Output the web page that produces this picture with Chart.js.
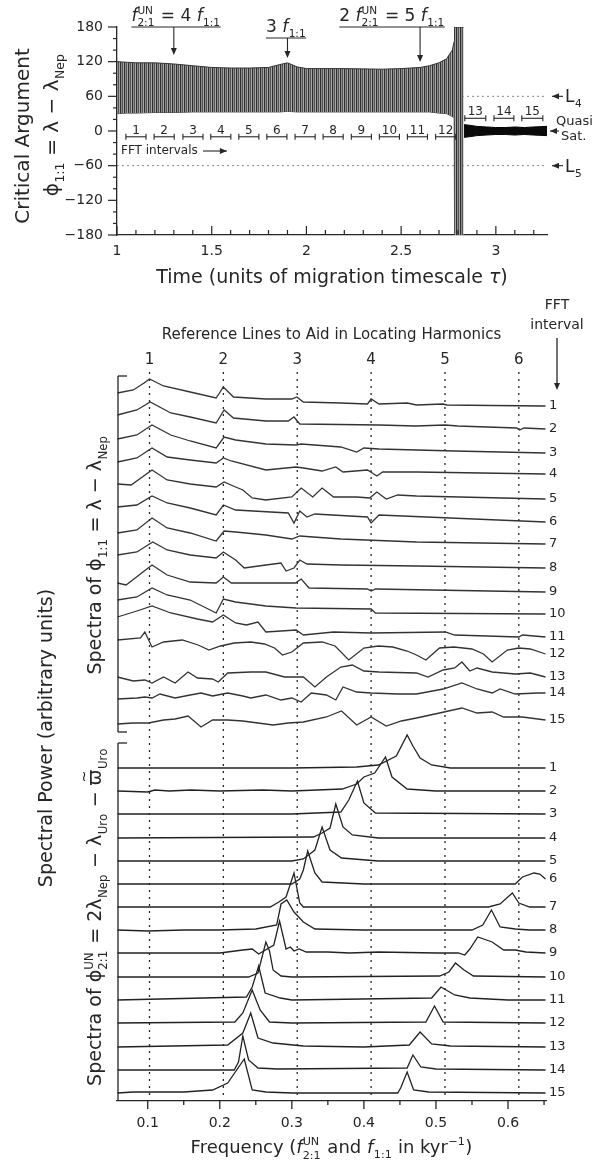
<!DOCTYPE html>
<html>
<head>
<meta charset="utf-8">
<script src="https://cdn.jsdelivr.net/npm/chart.js@4.4.1/dist/chart.umd.min.js"></script>
<style>
  html, body { margin: 0; padding: 0; background: #fff; }
  #wrap { position: relative; width: 594px; height: 1165px; }
  canvas { position: absolute; left: 0; }
  #top { top: 0; }
  #bot { top: 290px; }
</style>
</head>
<body>
<div id="wrap">
  <canvas id="top" width="594" height="290"></canvas>
  <canvas id="bot" width="594" height="875"></canvas>
</div>
<script>
// ---------- top panel: phi_1:1 against time ----------
// envelope of the fast libration (degrees)
const bandTime  = [1.00, 1.05, 1.10, 1.20, 1.30, 1.40, 1.50, 1.60, 1.70, 1.80, 1.86, 1.90, 1.95, 2.00, 2.20, 2.40, 2.50, 2.60, 2.65, 2.70, 2.74, 2.77, 2.78, 2.782, 2.830];
const bandUpper = [120, 119, 118, 118, 116, 113, 110, 109, 109, 110, 115, 118, 111, 108, 108, 107, 108, 110, 113, 118, 125, 140, 155, 180, 180];
const bandLower = [30, 31, 31, 32, 32, 33, 33, 33, 33, 33, 33, 34, 33, 33, 33, 33, 33, 33, 33, 31, 30, 25, 22, -180, -180];
// quasi-satellite phase after the escape
const satTime  = [2.832, 2.86, 2.90, 2.95, 3.00, 3.05, 3.10, 3.15, 3.20, 3.27];
const satUpper = [11, 10, 8, 7, 6, 6, 7, 6, 7, 8];
const satLower = [-11, -10, -8, -7, -6, -6, -7, -6, -7, -8];
// L4 / L5 longitudes
const libLevels = [60, -60];
const libNames = ['4', '5'];
// FFT windows (time units)
const fftStart = [1.047, 1.196, 1.348, 1.495, 1.643, 1.791, 1.940, 2.088, 2.237, 2.385, 2.533, 2.682, 2.836, 2.990, 3.137];
const fftEnd   = [1.153, 1.302, 1.454, 1.601, 1.749, 1.897, 2.046, 2.194, 2.343, 2.491, 2.639, 2.788, 2.947, 3.095, 3.248];
// commensurability markers
const markTimes = [1.30, 1.90, 2.60];
const timeTicks = [1, 1.5, 2, 2.5, 3];
const angleTicks = [-180, -120, -60, 0, 60, 120, 180];

// ---------- bottom panel: stacked spectra ----------
const freqTicks = [0.1, 0.2, 0.3, 0.4, 0.5, 0.6];
const harmonicFreqs = [0.1025, 0.205, 0.3075, 0.41, 0.5125, 0.615];
const phiOffsets = [695, 672, 648, 627, 602, 579, 557, 533, 509, 487, 464, 447, 424, 408, 381];
const unOffsets  = [333, 310, 287, 263, 240, 217, 194, 171, 148, 124, 101, 78, 54, 31, 8];

// spectra of phi_1:1, [frequency, power]
const sp11_1 = [[0.058,13],[0.080,16],[0.095,23],[0.1025,27],[0.122,20],[0.159,14],[0.195,8],[0.205,19],[0.219,9],[0.264,7],[0.300,7],[0.307,9],[0.316,4],[0.368,3],[0.405,2],[0.410,7],[0.421,2],[0.460,3],[0.473,1],[0.510,2],[0.515,1],[0.578,0.5],[0.652,0]];
const sp11_2 = [[0.058,14],[0.085,19],[0.1035,27],[0.132,16],[0.159,12],[0.195,6],[0.206,19],[0.219,11],[0.264,8],[0.295,8],[0.303,12],[0.311,5],[0.421,4],[0.472,3],[0.513,4],[0.530,3],[0.612,1],[0.616,-1],[0.622,1],[0.652,0]];
const sp11_3 = [[0.058,14],[0.085,18],[0.106,28],[0.132,18],[0.159,12],[0.195,5],[0.206,16],[0.222,13],[0.264,9],[0.306,8],[0.313,9],[0.368,6],[0.390,1],[0.400,5],[0.421,4],[0.526,2],[0.652,0]];
const sp11_4 = [[0.058,12],[0.085,16],[0.106,26],[0.127,17],[0.159,14],[0.195,11],[0.205,16],[0.216,13],[0.264,4],[0.306,7],[0.316,6],[0.342,3],[0.361,7],[0.371,2],[0.405,4],[0.418,-2],[0.426,2],[0.473,2],[0.652,0]];
const sp11_5 = [[0.058,15],[0.077,14],[0.106,29],[0.127,19],[0.159,15],[0.195,12],[0.206,17],[0.222,12],[0.232,9],[0.245,1],[0.264,-1],[0.300,2],[0.313,11],[0.329,2],[0.342,11],[0.358,2],[0.390,2],[0.408,1],[0.418,7],[0.431,0],[0.447,4],[0.473,3],[0.652,0]];
const sp11_6 = [[0.058,15],[0.085,17],[0.106,26],[0.127,19],[0.159,14],[0.195,7],[0.205,17],[0.222,12],[0.295,9],[0.303,-1],[0.311,11],[0.321,5],[0.332,8],[0.405,5],[0.410,-1],[0.421,7],[0.652,0]];
const sp11_7 = [[0.058,11],[0.085,14],[0.106,26],[0.127,16],[0.159,11],[0.195,3],[0.206,13],[0.222,12],[0.264,9],[0.300,5],[0.311,8],[0.368,5],[0.473,2],[0.652,0]];
const sp11_8 = [[0.058,13],[0.085,16],[0.107,26],[0.127,18],[0.159,13],[0.195,10],[0.205,16],[0.222,8],[0.234,0],[0.264,3],[0.285,5],[0.292,-3],[0.303,0],[0.311,8],[0.321,4],[0.368,3],[0.473,2],[0.652,0]];
const sp11_9 = [[0.058,9],[0.070,7],[0.106,27],[0.127,17],[0.159,10],[0.195,9],[0.205,15],[0.216,9],[0.305,9],[0.313,13],[0.324,4],[0.405,3],[0.410,1],[0.416,3],[0.652,0]];
const sp11_10 = [[0.058,14],[0.085,17],[0.106,26],[0.127,19],[0.159,14],[0.195,1],[0.205,15],[0.222,12],[0.264,8],[0.306,6],[0.410,5],[0.416,1],[0.652,0]];
const sp11_11 = [[0.058,20],[0.085,26],[0.106,31],[0.132,24],[0.169,18],[0.190,15],[0.205,22],[0.222,14],[0.237,12],[0.253,15],[0.264,5],[0.306,7],[0.316,2],[0.358,5],[0.410,4],[0.513,5],[0.526,2],[0.615,0],[0.620,2],[0.652,0]];
const sp11_12 = [[0.058,14],[0.090,16],[0.096,22],[0.106,7],[0.122,12],[0.148,14],[0.170,9],[0.185,4],[0.201,8],[0.220,11],[0.243,12],[0.262,10],[0.276,6],[0.287,-1],[0.300,2],[0.316,11],[0.342,12],[0.360,8],[0.379,-6],[0.400,6],[0.420,8],[0.440,7],[0.460,3],[0.473,-1],[0.486,-6],[0.505,6],[0.525,7],[0.550,5],[0.566,0],[0.578,-8],[0.599,4],[0.615,6],[0.631,5],[0.652,0]];
const sp11_13 = [[0.058,0],[0.080,-4],[0.096,-3],[0.106,-6],[0.122,0],[0.138,-6],[0.156,5],[0.169,-1],[0.190,-2],[0.198,-5],[0.211,4],[0.243,5],[0.264,5],[0.290,0],[0.316,0],[0.332,-10],[0.348,0],[0.368,10],[0.384,12],[0.400,6],[0.421,5],[0.473,4],[0.489,0],[0.510,7],[0.526,9],[0.536,15],[0.547,6],[0.557,9],[0.578,5],[0.610,3],[0.631,4],[0.652,0]];
const sp11_14 = [[0.058,-6],[0.085,-5],[0.096,-4],[0.106,-5],[0.117,-1],[0.138,-5],[0.159,-2],[0.174,0],[0.190,-3],[0.211,0],[0.232,-3],[0.243,-5],[0.264,-2],[0.285,-7],[0.300,-5],[0.313,-9],[0.327,0],[0.348,-2],[0.361,-7],[0.371,6],[0.390,1],[0.410,0],[0.447,-1],[0.473,-1],[0.510,4],[0.536,10],[0.557,4],[0.578,0],[0.589,4],[0.610,-1],[0.641,0],[0.652,0]];
const sp11_15 = [[0.058,-4],[0.080,-3],[0.101,-3],[0.122,0],[0.138,1],[0.156,4],[0.174,-7],[0.190,0],[0.211,0],[0.232,-1],[0.253,-3],[0.274,-5],[0.295,-3],[0.316,-2],[0.348,3],[0.369,9],[0.390,-5],[0.410,3],[0.431,-6],[0.452,-1],[0.473,2],[0.505,7],[0.536,12],[0.557,7],[0.578,8],[0.594,3],[0.620,3],[0.652,0]];

// spectra of phi^UN_2:1, [frequency, power]
const sp21_1 = [[0.058,0],[0.300,0],[0.390,1],[0.420,3],[0.445,12],[0.460,33],[0.468,22],[0.478,10],[0.494,3],[0.520,0],[0.652,0]];
const sp21_2 = [[0.058,0],[0.100,-1],[0.110,1],[0.130,0],[0.160,1],[0.200,0],[0.260,1],[0.300,0],[0.370,2],[0.390,7],[0.400,14],[0.415,18],[0.430,34],[0.439,14],[0.460,2],[0.500,0],[0.652,0]];
const sp21_3 = [[0.058,0],[0.300,0],[0.368,2],[0.379,14],[0.391,33],[0.400,11],[0.416,1],[0.652,0]];
const sp21_4 = [[0.058,0],[0.330,1],[0.342,5],[0.353,10],[0.361,34],[0.371,11],[0.384,3],[0.420,0],[0.652,0]];
const sp21_5 = [[0.058,0],[0.300,0],[0.316,2],[0.332,11],[0.342,34],[0.353,11],[0.369,3],[0.420,0],[0.652,0]];
const sp21_6 = [[0.058,0],[0.300,0],[0.311,5],[0.316,14],[0.322,33],[0.332,11],[0.342,2],[0.400,0],[0.610,0],[0.620,7],[0.636,11],[0.644,10],[0.652,5]];
const sp21_7 = [[0.058,0],[0.270,0],[0.282,5],[0.292,10],[0.303,34],[0.311,4],[0.316,0],[0.573,0],[0.589,3],[0.606,14],[0.615,4],[0.630,0],[0.652,0]];
const sp21_8 = [[0.058,0],[0.100,-1],[0.150,0],[0.200,0],[0.250,1],[0.279,5],[0.285,26],[0.293,30],[0.303,18],[0.316,8],[0.332,1],[0.400,0],[0.550,0],[0.565,5],[0.577,20],[0.589,3],[0.610,1],[0.630,0],[0.652,0]];
const sp21_9 = [[0.058,0],[0.200,0],[0.232,3],[0.245,4],[0.254,-1],[0.275,8],[0.283,32],[0.292,4],[0.298,6],[0.303,2],[0.310,4],[0.320,1],[0.350,1],[0.380,0],[0.420,1],[0.500,0],[0.531,0],[0.540,-2],[0.547,4],[0.558,16],[0.578,11],[0.594,3],[0.610,3],[0.625,1],[0.652,0]];
const sp21_10 = [[0.058,0],[0.240,0],[0.253,4],[0.264,35],[0.269,26],[0.274,7],[0.285,1],[0.300,0],[0.505,1],[0.518,5],[0.527,14],[0.539,7],[0.552,1],[0.652,0]];
const sp21_11 = [[0.058,0],[0.237,3],[0.245,13],[0.254,34],[0.263,7],[0.284,2],[0.300,0],[0.494,2],[0.507,13],[0.526,5],[0.547,2],[0.600,0],[0.652,0]];
const sp21_12 = [[0.058,0],[0.221,1],[0.232,10],[0.245,33],[0.256,13],[0.269,1],[0.300,0],[0.486,1],[0.498,17],[0.510,1],[0.652,0]];
const sp21_13 = [[0.058,0],[0.211,2],[0.232,14],[0.243,34],[0.253,9],[0.274,4],[0.316,1],[0.400,0],[0.463,2],[0.478,15],[0.494,3],[0.520,1],[0.652,0]];
const sp21_14 = [[0.058,0],[0.220,0],[0.226,8],[0.232,34],[0.240,10],[0.253,2],[0.280,1],[0.460,2],[0.468,15],[0.479,3],[0.500,1],[0.652,0]];
const sp21_15 = [[0.058,0],[0.080,1],[0.150,1],[0.190,3],[0.211,10],[0.234,34],[0.245,3],[0.264,1],[0.300,0],[0.447,0],[0.451,5],[0.460,21],[0.469,3],[0.490,1],[0.652,0]];

const sp11 = [sp11_1, sp11_2, sp11_3, sp11_4, sp11_5, sp11_6, sp11_7, sp11_8, sp11_9, sp11_10, sp11_11, sp11_12, sp11_13, sp11_14, sp11_15];
const sp21 = [sp21_1, sp21_2, sp21_3, sp21_4, sp21_5, sp21_6, sp21_7, sp21_8, sp21_9, sp21_10, sp21_11, sp21_12, sp21_13, sp21_14, sp21_15];

// ---------- drawing helpers ----------
const INK = '#262626';
const FAMILY = '"DejaVu Sans", "Liberation Sans", sans-serif';
const fnt = (size, it) => (it ? 'italic ' : '') + size + 'px ' + FAMILY;

function line(ctx, x1, y1, x2, y2) { ctx.beginPath(); ctx.moveTo(x1, y1); ctx.lineTo(x2, y2); ctx.stroke(); }
function head(ctx, x, y, dx, dy) {
    const L = 7, W = 3;
    ctx.beginPath(); ctx.moveTo(x, y);
    ctx.lineTo(x - dx * L - dy * W, y - dy * L + dx * W);
    ctx.lineTo(x - dx * L + dy * W, y - dy * L - dx * W);
    ctx.closePath(); ctx.fill();
}

// text runs: {t}, {t, it}, {t, sub}, {t, sup}, {stack:[sup, sub]}, {t, tilde}
function segW(ctx, s, size) {
    const small = size * 0.62;
    if (s.stack) { ctx.font = fnt(small); return Math.max(ctx.measureText(s.stack[0]).width, ctx.measureText(s.stack[1]).width) + 1; }
    ctx.font = fnt(s.sub || s.sup ? small : size, s.it);
    return ctx.measureText(s.t).width + (s.sub || s.sup ? 1 : 0);
}
function drawRich(ctx, segs, x, y, size, align) {
    const small = size * 0.62;
    const w = segs.reduce((acc, s) => acc + segW(ctx, s, size), 0);
    let cx = align === 'center' ? x - w / 2 : align === 'right' ? x - w : x;
    ctx.textAlign = 'left'; ctx.textBaseline = 'alphabetic';
    segs.forEach(s => {
        const sw = segW(ctx, s, size);
        if (s.stack) {
            ctx.font = fnt(small);
            ctx.fillText(s.stack[0], cx, y - size * 0.42);
            ctx.fillText(s.stack[1], cx, y + size * 0.32);
        } else if (s.sub) {
            ctx.font = fnt(small); ctx.fillText(s.t, cx + 0.5, y + size * 0.3);
        } else if (s.sup) {
            ctx.font = fnt(small); ctx.fillText(s.t, cx + 0.5, y - size * 0.42);
        } else {
            ctx.font = fnt(size, s.it); ctx.fillText(s.t, cx, y);
            if (s.tilde) { ctx.font = fnt(size * 0.75); ctx.fillText('~', cx + sw * 0.18, y - size * 0.62); }
        }
        cx += sw;
    });
    return w;
}
function drawRotated(ctx, segs, x, cy, size) {
    ctx.save(); ctx.translate(x, cy); ctx.rotate(-Math.PI / 2);
    drawRich(ctx, segs, 0, size * 0.36, size, 'center');
    ctx.restore();
}
const pts = (xs, ys) => xs.map((x, i) => ({ x, y: ys[i] }));

function stripePattern() {
    const c = document.createElement('canvas'); c.width = 4; c.height = 2;
    const g = c.getContext('2d');
    ['#2e2e2e', '#8c8c8c', '#555555', '#a8a8a8'].forEach((col, i) => { g.fillStyle = col; g.fillRect(i, 0, 1, 2); });
    return g.createPattern(c, 'repeat');
}

// ---------- top chart ----------
const topDecor = {
    id: 'topDecor',
    afterDraw(chart) {
        const { ctx, chartArea: a, scales: { x: xs, y: ys } } = chart;
        ctx.save();
        ctx.strokeStyle = INK; ctx.fillStyle = INK; ctx.lineWidth = 1.2;

        // axis ticks: outward on the angle axis, inward on the time axis
        for (let v = -180; v <= 180; v += 20) {
            const y = ys.getPixelForValue(v);
            line(ctx, a.left - (v % 60 === 0 ? 9 : 4), y, a.left, y);
        }
        for (let k = 10; k <= 32; k++) {
            const x = xs.getPixelForValue(k / 10);
            line(ctx, x, a.bottom, x, a.bottom - (k % 5 === 0 ? 9 : 5));
        }

        // FFT interval brackets
        ctx.lineWidth = 1.1;
        fftStart.forEach((t0, i) => {
            const x0 = xs.getPixelForValue(t0), x1 = xs.getPixelForValue(fftEnd[i]);
            const y = ys.getPixelForValue(i < 12 ? -10 : 22);
            line(ctx, x0, y, x1, y);
            line(ctx, x0, y - 3, x0, y + 3);
            line(ctx, x1, y - 3, x1, y + 3);
            ctx.font = fnt(12); ctx.textAlign = 'center'; ctx.textBaseline = 'alphabetic';
            ctx.fillText(String(i + 1), (x0 + x1) / 2, y - 3);
        });
        ctx.font = fnt(12); ctx.textAlign = 'left'; ctx.textBaseline = 'middle';
        ctx.fillText('FFT intervals', a.left + 4, 151);
        line(ctx, a.left + 86, 151, xs.getPixelForValue(1.58), 151);
        head(ctx, xs.getPixelForValue(1.58), 151, 1, 0);

        // libration centre labels
        libLevels.forEach((v, i) => {
            const y = ys.getPixelForValue(v);
            line(ctx, a.right + 5, y, a.right + 16, y); head(ctx, a.right + 5, y, -1, 0);
            drawRich(ctx, [{ t: 'L' }, { t: libNames[i], sub: 1 }], a.right + 18, y + 6, 17, 'left');
        });
        const y0 = ys.getPixelForValue(0);
        line(ctx, a.right + 3, y0, a.right + 12, y0); head(ctx, a.right + 3, y0, -1, 0);
        ctx.font = fnt(13); ctx.textAlign = 'left'; ctx.textBaseline = 'middle';
        ctx.fillText('Quasi', a.right + 9, y0 - 9);
        ctx.fillText('Sat.', a.right + 14, y0 + 6);

        // commensurability markers
        const marks = [
            { segs: [{ t: 'f', it: 1 }, { stack: ['UN', '2:1'] }, { t: ' = 4 ' }, { t: 'f', it: 1 }, { t: '1:1', sub: 1 }], cx: 176, base: 21, bar: 27, tip: 55 },
            { segs: [{ t: '3 ' }, { t: 'f', it: 1 }, { t: '1:1', sub: 1 }], cx: 286, base: 32, bar: 38, tip: 58 },
            { segs: [{ t: '2 ' }, { t: 'f', it: 1 }, { stack: ['UN', '2:1'] }, { t: ' = 5 ' }, { t: 'f', it: 1 }, { t: '1:1', sub: 1 }], cx: 392, base: 21, bar: 27, tip: 62 }
        ];
        marks.forEach((m, i) => {
            const w = drawRich(ctx, m.segs, m.cx, m.base, 17, 'center');
            line(ctx, m.cx - w / 2, m.bar, m.cx + w / 2, m.bar);
            const x = xs.getPixelForValue(markTimes[i]);
            line(ctx, x, m.bar, x, m.tip - 4); head(ctx, x, m.tip, 0, 1);
        });

        // axis titles
        drawRotated(ctx, [{ t: 'Critical Argument' }], 22, 136, 20);
        drawRotated(ctx, [{ t: 'ϕ' }, { t: '1:1', sub: 1 }, { t: ' = λ − λ' }, { t: 'Nep', sub: 1 }], 51, 125, 20);
        drawRich(ctx, [{ t: 'Time (units of migration timescale ' }, { t: 'τ', it: 1 }, { t: ')' }], (a.left + a.right) / 2, 283, 19, 'center');
        ctx.restore();
    }
};

new Chart(document.getElementById('top'), {
    type: 'line',
    data: {
        datasets: [
            { data: pts(bandTime, bandUpper), borderColor: '#333', borderWidth: 1, backgroundColor: stripePattern(), fill: '+1', order: 1 },
            { data: pts(bandTime, bandLower), borderColor: '#444', borderWidth: 1, fill: false, order: 1 },
            { data: pts(satTime, satUpper), borderColor: '#000', borderWidth: 1, backgroundColor: '#0a0a0a', fill: '+1', order: 0 },
            { data: pts(satTime, satLower), borderColor: '#000', borderWidth: 1, fill: false, order: 0 },
            ...libLevels.map(v => ({ data: [{ x: 1, y: v }, { x: 3.27, y: v }], borderColor: '#8a8a8a', borderWidth: 1, borderDash: [2, 3], fill: false, order: 5 }))
        ]
    },
    options: {
        responsive: false, animation: false,
        layout: { padding: { top: 27, right: 47, left: 0, bottom: 0 } },
        elements: { point: { radius: 0 }, line: { tension: 0 } },
        plugins: { legend: { display: false }, tooltip: { enabled: false } },
        scales: {
            x: {
                type: 'linear', min: 1, max: 3.27,
                afterBuildTicks: s => { s.ticks = timeTicks.map(v => ({ value: v })); },
                afterFit: s => { s.height = 55; },
                grid: { display: false, drawTicks: false },
                border: { display: true, color: INK, width: 1.3 },
                ticks: { font: { family: FAMILY, size: 14 }, color: INK, padding: 8, maxRotation: 0, autoSkip: false, callback: v => String(v) }
            },
            y: {
                min: -180, max: 180,
                afterBuildTicks: s => { s.ticks = angleTicks.map(v => ({ value: v })); },
                afterFit: s => { s.width = 117; },
                grid: { display: false, drawTicks: false },
                border: { display: true, color: INK, width: 1.3 },
                ticks: { font: { family: FAMILY, size: 14 }, color: INK, padding: 14, callback: v => v < 0 ? '−' + Math.abs(v) : String(v) }
            }
        }
    },
    plugins: [topDecor]
});

// ---------- bottom chart ----------
const botDecor = {
    id: 'botDecor',
    beforeDatasetsDraw(chart) {
        const { ctx, chartArea: a, scales: { x: xs } } = chart;
        ctx.save();
        ctx.strokeStyle = INK; ctx.lineWidth = 1.3; ctx.setLineDash([2, 5]);
        harmonicFreqs.forEach(f => { const x = xs.getPixelForValue(f); line(ctx, x, a.top - 4, x, a.bottom); });
        ctx.restore();
    },
    afterDraw(chart) {
        const { ctx, chartArea: a, scales: { x: xs, y: ys } } = chart;
        ctx.save();
        ctx.strokeStyle = INK; ctx.fillStyle = INK; ctx.lineWidth = 1.3;

        // frequency ticks
        for (let k = 2; k <= 13; k++) {
            const x = xs.getPixelForValue(k * 0.05);
            line(ctx, x, a.bottom, x, a.bottom + (k % 2 === 0 ? 8 : 4));
        }

        // group brackets on the left
        const bx = a.left + 1;
        const yTop = ys.getPixelForValue(725), yMid1 = ys.getPixelForValue(369), yMid2 = ys.getPixelForValue(358);
        line(ctx, bx, yTop, bx, yMid1); line(ctx, bx, yTop, bx + 9, yTop); line(ctx, bx, yMid1, bx + 9, yMid1);
        line(ctx, bx, yMid2, bx, a.bottom); line(ctx, bx, yMid2, bx + 9, yMid2);

        // harmonic numbers and header
        ctx.textAlign = 'center'; ctx.textBaseline = 'middle';
        ctx.font = fnt(15);
        harmonicFreqs.forEach((f, i) => ctx.fillText(String(i + 1), xs.getPixelForValue(f), 70));
        ctx.fillText('Reference Lines to Aid in Locating Harmonics', (a.left + a.right) / 2, 45);
        ctx.font = fnt(14);
        ctx.fillText('FFT', 557, 15);
        ctx.fillText('interval', 557, 35);
        line(ctx, 557, 48, 557, 94); head(ctx, 557, 100, 0, 1);

        // interval numbers at the right end of each spectrum
        ctx.font = fnt(13); ctx.textAlign = 'left';
        [[sp11, phiOffsets], [sp21, unOffsets]].forEach(([set, offs]) => {
            set.forEach((sp, i) => {
                const y = ys.getPixelForValue(offs[i] + sp[sp.length - 1][1]);
                ctx.fillText(String(i + 1), a.right + 3, y);
            });
        });

        // axis titles
        drawRich(ctx, [{ t: 'Frequency (' }, { t: 'f', it: 1 }, { stack: ['UN', '2:1'] }, { t: ' and ' }, { t: 'f', it: 1 }, { t: '1:1', sub: 1 }, { t: ' in kyr' }, { t: '−1', sup: 1 }, { t: ')' }], (a.left + a.right) / 2, 863, 18, 'center');
        drawRotated(ctx, [{ t: 'Spectral Power (arbitrary units)' }], 45, 448, 19);
        drawRotated(ctx, [{ t: 'Spectra of ϕ' }, { t: '1:1', sub: 1 }, { t: ' = λ − λ' }, { t: 'Nep', sub: 1 }], 94, 265, 19);
        drawRotated(ctx, [{ t: 'Spectra of ϕ' }, { stack: ['UN', '2:1'] }, { t: ' = 2λ' }, { t: 'Nep', sub: 1 }, { t: ' − λ' }, { t: 'Uro', sub: 1 }, { t: ' − ' }, { t: 'ϖ', tilde: 1 }, { t: 'Uro', sub: 1 }], 94, 627, 19);
        ctx.restore();
    }
};

const specSets = [];
sp11.forEach((sp, i) => specSets.push({ data: sp.map(([f, h]) => ({ x: f, y: phiOffsets[i] + h })), borderColor: '#333', borderWidth: 1.3 }));
sp21.forEach((sp, i) => specSets.push({ data: sp.map(([f, h]) => ({ x: f, y: unOffsets[i] + h })), borderColor: '#222', borderWidth: 1.3 }));

new Chart(document.getElementById('bot'), {
    type: 'line',
    data: { datasets: specSets },
    options: {
        responsive: false, animation: false,
        layout: { padding: { top: 86, right: 48, left: 0, bottom: 0 } },
        elements: { point: { radius: 0 }, line: { tension: 0, fill: false } },
        plugins: { legend: { display: false }, tooltip: { enabled: false } },
        scales: {
            x: {
                type: 'linear', min: 0.0574, max: 0.6527,
                afterBuildTicks: s => { s.ticks = freqTicks.map(v => ({ value: v })); },
                afterFit: s => { s.height = 64; },
                grid: { display: false, drawTicks: false },
                border: { display: true, color: INK, width: 1.3 },
                ticks: { font: { family: FAMILY, size: 14 }, color: INK, padding: 14, maxRotation: 0, autoSkip: false }
            },
            y: {
                min: 0, max: 725,
                afterFit: s => { s.width = 117; },
                grid: { display: false, drawTicks: false },
                border: { display: false },
                ticks: { display: false }
            }
        }
    },
    plugins: [botDecor]
});
</script>
</body>
</html>
